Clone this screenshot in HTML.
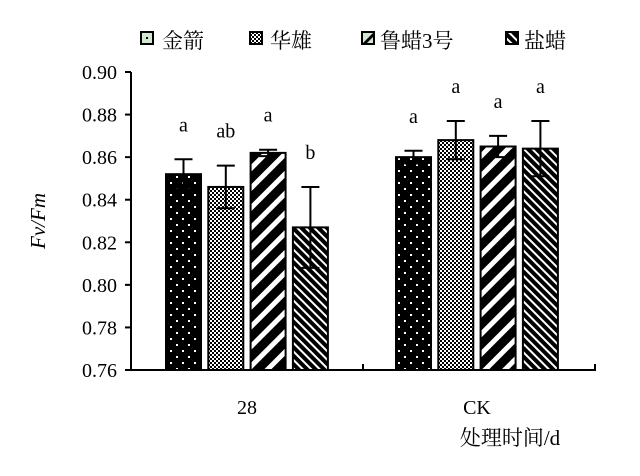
<!DOCTYPE html>
<html><head><meta charset="utf-8"><style>
body{margin:0;background:#fff}
svg{display:block;font-family:"Liberation Serif","Noto Serif CJK SC",serif}
</style></head><body>
<svg id="c" width="640" height="476">
<defs>
<pattern id="p0" width="12" height="12" patternUnits="userSpaceOnUse"><rect width="12" height="12" fill="#000"/><rect x="2" y="2" width="2" height="2" fill="#fff"/><rect x="8" y="8" width="2" height="2" fill="#fff"/></pattern>
<pattern id="p1" width="4" height="4" patternUnits="userSpaceOnUse"><rect width="4" height="4" fill="#fff"/><rect width="2" height="2" fill="#000"/><rect x="2" y="2" width="2" height="2" fill="#000"/></pattern>
<pattern id="p2" width="14" height="14" patternUnits="userSpaceOnUse" patternTransform="rotate(45)"><rect width="14" height="14" fill="#000"/><rect width="5" height="14" fill="#fff"/></pattern>
<pattern id="p3" width="6" height="6" patternUnits="userSpaceOnUse" patternTransform="rotate(-45)"><rect width="6" height="6" fill="#000"/><rect width="2" height="6" fill="#fff"/></pattern>
</defs>
<g id="legend">
<g><rect x="141" y="32" width="12" height="12" fill="#cfe8cf" stroke="#000" stroke-width="2"/><rect x="146" y="37" width="2" height="2" fill="#000"/><text x="162" y="48" font-size="21">金箭</text></g>
<g><rect x="250" y="32" width="12" height="12" fill="url(#p1)" stroke="#000" stroke-width="2"/><text x="270" y="48" font-size="21">华雄</text></g>
<g><rect x="362" y="32" width="12" height="12" fill="#cfe8cf" stroke="#000" stroke-width="2"/><path d="M363 43 L373 33 L373 37 L367 43Z" fill="#000"/><text x="380" y="48" font-size="21">鲁蜡3号</text></g>
<g><rect x="506" y="32" width="12" height="12" fill="url(#p3)" stroke="#000" stroke-width="2"/><text x="524" y="48" font-size="21">盐蜡</text></g>
</g>
<g id="plot"></g>
</svg>
<script>
const categories=["28","CK"];
const series=["金箭","华雄","鲁蜡3号","盐蜡"];
const values=[[0.852,0.846,0.862,0.827],[0.860,0.868,0.865,0.864]];
const errors=[[0.007,0.010,0.0015,0.019],[0.003,0.009,0.005,0.013]];
const letters=[["a","ab","a","b"],["a","a","a","a"]];
const yTicks=["0.76","0.78","0.80","0.82","0.84","0.86","0.88","0.90"];
const NS="http://www.w3.org/2000/svg";
const g=document.getElementById("plot");
const x0=131,x1=595,yMin=0.76,yMax=0.90,py0=370,py1=72;
const y=v=>py0-(v-yMin)/(yMax-yMin)*(py0-py1);
const catW=(x1-x0)/categories.length;
const xc=i=>x0+catW*(i+0.5)+(i===0?0:-2);
function mk(t,a,p){const e=document.createElementNS(NS,t);for(const k in a)e.setAttribute(k,a[k]);(p||g).appendChild(e);return e;}
yTicks.forEach(t=>{const yy=y(parseFloat(t));
const l=mk("line",{x1:x0-6,x2:x0,y1:yy,y2:yy,stroke:"#000","stroke-width":2});


const tx=mk("text",{x:x0-14,y:yy+7,"text-anchor":"end","font-size":20});tx.textContent=t;

});
categories.forEach((c,i)=>{
values[i].forEach((v,j)=>{
const bx=xc(i)-81+j*42.3;
const r=mk("rect",{x:bx,y:y(v),width:35,height:py0-y(v),fill:"url(#p"+j+")",stroke:"#000","stroke-width":2});


const cx=bx+17.5,e=errors[i][j];
const eb=mk("path",{d:`M${cx} ${y(v-e)}V${y(v+e)}M${cx-9} ${y(v+e)}H${cx+9}M${cx-9} ${y(v-e)}H${cx+9}`,stroke:"#000","stroke-width":2,fill:"none"});


const lt=mk("text",{x:cx,y:y(v+e)-28,"text-anchor":"middle","font-size":20});lt.textContent=letters[i][j];


});
const cl=mk("text",{x:xc(i),y:414,"text-anchor":"middle","font-size":20});cl.textContent=c;


});
const ax=mk("path",{d:`M${x0} ${py1}V${py0}H${x1}V${py0-6}M${x0+catW} ${py0}V${py0-6}`,stroke:"#000","stroke-width":2,fill:"none"});


const yt=mk("text",{x:0,y:0,transform:"translate(45 221) rotate(-90)","text-anchor":"middle","font-size":21,"font-style":"italic"});yt.textContent="Fv/Fm";


const xt=mk("text",{x:510,y:445,"text-anchor":"middle","font-size":21});xt.textContent="处理时间/d";


</script>
</body></html>
